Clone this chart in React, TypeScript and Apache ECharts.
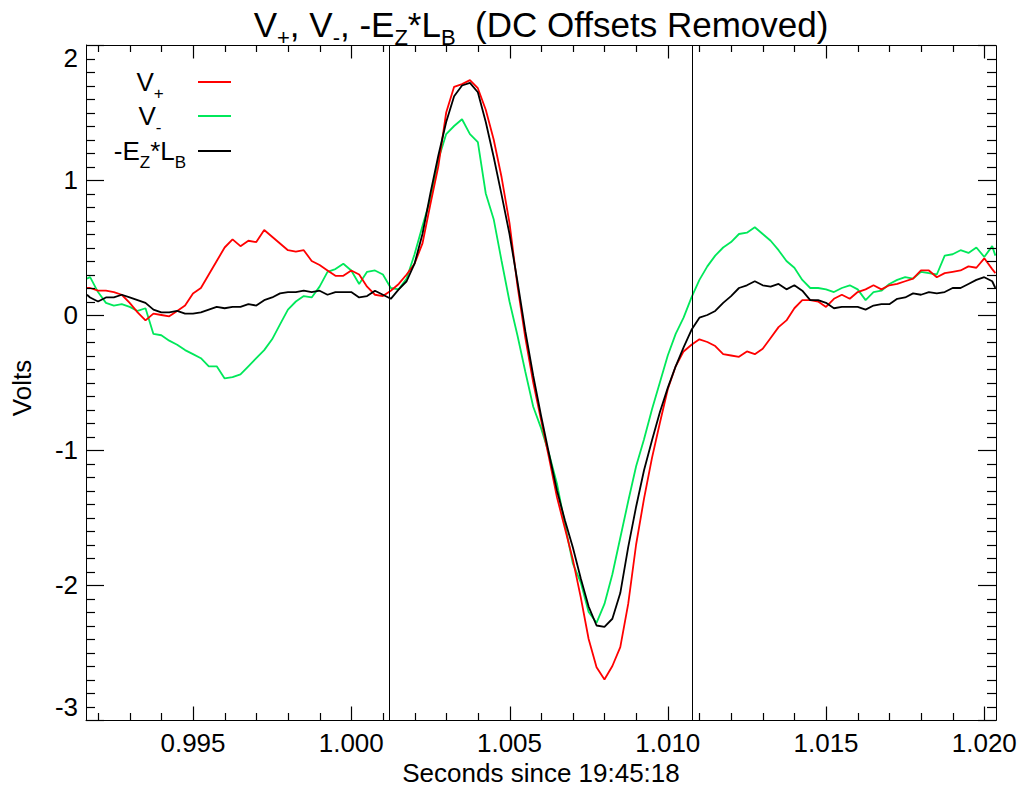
import React, { useEffect, useRef } from "react";
import * as echarts from "echarts";

// Sample times (seconds since 19:45:18)
const seconds = [
  0.99165,
  0.99175, 0.992, 0.99225, 0.9925, 0.99275, 0.993, 0.99325, 0.9935, 0.99375, 0.994,
  0.99425, 0.9945, 0.99475, 0.995, 0.99525, 0.9955, 0.99575, 0.996, 0.99625, 0.9965,
  0.99675, 0.997, 0.99725, 0.9975, 0.99775, 0.998, 0.99825, 0.9985, 0.99875, 0.999,
  0.99925, 0.9995, 0.99975, 1.0, 1.00025, 1.0005, 1.00075, 1.001, 1.00125, 1.0015,
  1.00175, 1.002, 1.00225, 1.0025, 1.00275, 1.003, 1.00325, 1.0035, 1.00375, 1.004,
  1.00425, 1.0045, 1.00475, 1.005, 1.00525, 1.0055, 1.00575, 1.006, 1.00625, 1.0065,
  1.00675, 1.007, 1.00725, 1.0075, 1.00775, 1.008, 1.00825, 1.0085, 1.00875, 1.009,
  1.00925, 1.0095, 1.00975, 1.01, 1.01025, 1.0105, 1.01075, 1.011, 1.01125, 1.0115,
  1.01175, 1.012, 1.01225, 1.0125, 1.01275, 1.013, 1.01325, 1.0135, 1.01375, 1.014,
  1.01425, 1.0145, 1.01475, 1.015, 1.01525, 1.0155, 1.01575, 1.016, 1.01625, 1.0165,
  1.01675, 1.017, 1.01725, 1.0175, 1.01775, 1.018, 1.01825, 1.0185, 1.01875, 1.019,
  1.01925, 1.0195, 1.01975, 1.02, 1.02025,
  1.02035,
];

// V+ (red)
const vPlus = [
  0.2,
  0.2, 0.18, 0.18, 0.17, 0.15, 0.09, 0.02, -0.04, 0.01, 0.0,
  -0.01, 0.03, 0.07, 0.16, 0.2, 0.3, 0.4, 0.5, 0.56, 0.51,
  0.55, 0.54, 0.63, 0.58, 0.53, 0.48, 0.47, 0.48, 0.4, 0.37,
  0.33, 0.29, 0.29, 0.33, 0.3, 0.21, 0.15, 0.14, 0.18, 0.23,
  0.3, 0.38, 0.53, 0.82, 1.1, 1.5, 1.69, 1.71, 1.74, 1.68,
  1.52, 1.3, 1.02, 0.68, 0.22, -0.17, -0.5, -0.78, -1.06, -1.35,
  -1.58, -1.81, -2.09, -2.4, -2.61, -2.7, -2.6, -2.46, -2.14, -1.7,
  -1.36, -1.06, -0.8, -0.55, -0.38, -0.27, -0.22, -0.18, -0.2, -0.23,
  -0.29, -0.3, -0.31, -0.27, -0.29, -0.25, -0.17, -0.09, -0.04, 0.05,
  0.11, 0.11, 0.1, 0.06, 0.12, 0.15, 0.12, 0.17, 0.19, 0.22,
  0.19, 0.22, 0.23, 0.25, 0.27, 0.33, 0.33, 0.28, 0.31, 0.32,
  0.33, 0.36, 0.35, 0.42, 0.34,
  0.31,
];

// V- (green)
const vMinus = [
  0.27,
  0.28, 0.17, 0.09, 0.07, 0.08, 0.06, 0.03, 0.05, -0.14, -0.15,
  -0.19, -0.22, -0.26, -0.29, -0.32, -0.38, -0.38, -0.47, -0.46, -0.44,
  -0.38, -0.32, -0.26, -0.18, -0.07, 0.04, 0.1, 0.14, 0.13, 0.21,
  0.32, 0.34, 0.38, 0.33, 0.23, 0.32, 0.33, 0.3, 0.2, 0.19,
  0.27, 0.45, 0.66, 0.86, 1.15, 1.34, 1.4, 1.45, 1.34, 1.28,
  0.9, 0.71, 0.4, 0.1, -0.15, -0.42, -0.68, -0.84, -1.03, -1.25,
  -1.55, -1.84, -1.98, -2.2, -2.28, -2.14, -1.92, -1.65, -1.38, -1.12,
  -0.92, -0.7, -0.5, -0.3, -0.14, -0.02, 0.13, 0.26, 0.36, 0.44,
  0.5, 0.54, 0.6, 0.61, 0.65, 0.6, 0.55, 0.48, 0.4, 0.35,
  0.26, 0.2, 0.2, 0.19, 0.17, 0.2, 0.22, 0.19, 0.11, 0.17,
  0.18, 0.23, 0.26, 0.28, 0.27, 0.32, 0.31, 0.3, 0.44, 0.45,
  0.48, 0.46, 0.5, 0.43, 0.51,
  0.44,
];

// -Ez*Lb (black)
const ezLb = [
  0.15,
  0.13, 0.1, 0.13, 0.13, 0.15, 0.13, 0.11, 0.09, 0.04, 0.02,
  0.02, 0.03, 0.01, 0.01, 0.02, 0.04, 0.06, 0.05, 0.06, 0.06,
  0.08, 0.07, 0.11, 0.13, 0.16, 0.17, 0.17, 0.18, 0.17, 0.18,
  0.15, 0.17, 0.17, 0.17, 0.13, 0.14, 0.18, 0.15, 0.12, 0.19,
  0.25, 0.38, 0.6, 0.9, 1.18, 1.43, 1.62, 1.7, 1.72, 1.65,
  1.43, 1.17, 0.89, 0.6, 0.25, -0.12, -0.45, -0.75, -1.03, -1.3,
  -1.52, -1.72, -1.95, -2.16, -2.3, -2.31, -2.25, -2.06, -1.72, -1.42,
  -1.15, -0.93, -0.72, -0.54, -0.38, -0.24, -0.11, -0.02, 0.0, 0.03,
  0.09, 0.14, 0.2, 0.22, 0.25, 0.22, 0.21, 0.23, 0.19, 0.22,
  0.18, 0.11, 0.11, 0.09, 0.05, 0.06, 0.06, 0.06, 0.04, 0.07,
  0.08, 0.08, 0.12, 0.13, 0.16, 0.15, 0.17, 0.16, 0.17, 0.2,
  0.2, 0.23, 0.26, 0.28, 0.25,
  0.2,
];

// Tick positions
const xMajorTicks = [0.995, 1.0, 1.005, 1.01, 1.015, 1.02];
const xMinorTicks = [
  0.992, 0.993, 0.994, 0.996, 0.997, 0.998, 0.999, 1.001, 1.002, 1.003, 1.004, 1.006,
  1.007, 1.008, 1.009, 1.011, 1.012, 1.013, 1.014, 1.016, 1.017, 1.018, 1.019,
];
const yMajorTicks = [-3, -2, -1, 0, 1, 2];
const yMinorTicks = [
  -2.9, -2.8, -2.7, -2.6, -2.5, -2.4, -2.3, -2.2, -2.1,
  -1.9, -1.8, -1.7, -1.6, -1.5, -1.4, -1.3, -1.2, -1.1,
  -0.9, -0.8, -0.7, -0.6, -0.5, -0.4, -0.3, -0.2, -0.1,
  0.1, 0.2, 0.3, 0.4, 0.5, 0.6, 0.7, 0.8, 0.9,
  1.1, 1.2, 1.3, 1.4, 1.5, 1.6, 1.7, 1.8, 1.9,
];

const markerTimes = [1.0012, 1.01077];
const xMin = 0.99162;
const xMax = 1.02037;
const yMin = -3;
const yMax = 2;

const FONT = "'Liberation Sans', Arial, Helvetica, sans-serif";
const RED = "#ff0000";
const GREEN = "#00e85a";
const BLACK = "#000000";

export default function App() {
  const ref = useRef<HTMLDivElement>(null);

  useEffect(() => {
    const chart = echarts.init(ref.current as HTMLDivElement, null, { renderer: "svg" });

    const isMajor = (v: number) => Math.abs(v * 200 - Math.round(v * 200)) < 1e-6;

    const baseGraphics: any[] = [
      {
        type: "text",
        x: 541,
        y: 0,
        style: {
          text: "V{s|+}, V{s|-}, -E{s|Z}*L{s|B}  (DC Offsets Removed)",
          fill: "#000",
          fontSize: 35,
          fontFamily: FONT,
          textAlign: "center",
          textVerticalAlign: "top",
          rich: { s: { fontSize: 22, fontFamily: FONT, fill: "#000", padding: [26, 0, 0, 0] } },
        },
      },
      {
        type: "text",
        x: 541,
        y: 773,
        style: {
          text: "Seconds since 19:45:18",
          fill: "#000",
          fontSize: 26,
          fontFamily: FONT,
          textAlign: "center",
          textVerticalAlign: "middle",
        },
      },
      {
        type: "text",
        x: 22,
        y: 388,
        rotation: Math.PI / 2,
        style: {
          text: "Volts",
          fill: "#000",
          fontSize: 26,
          fontFamily: FONT,
          textAlign: "center",
          textVerticalAlign: "middle",
        },
      },
      ...[
        { label: "V{s|+}", color: RED, y: 82 },
        { label: "V{s|-}", color: GREEN, y: 116 },
        { label: "-E{s|Z}*L{s|B}", color: BLACK, y: 151 },
      ].flatMap((it) => [
        {
          type: "text",
          x: 150,
          y: it.y,
          style: {
            text: it.label,
            fill: "#000",
            fontSize: 26,
            fontFamily: FONT,
            textAlign: "center",
            textVerticalAlign: "middle",
            rich: { s: { fontSize: 17, fontFamily: FONT, fill: "#000", padding: [22, 0, 0, 0] } },
          },
        },
        {
          type: "line",
          shape: { x1: 198, y1: it.y, x2: 231, y2: it.y },
          style: { stroke: it.color, lineWidth: 1.8 },
        },
      ]),
    ];

    const option: any = {
      animation: false,
      backgroundColor: "#ffffff",
      grid: { left: 86, top: 45, width: 910, height: 675 },
      xAxis: [
        {
          type: "value",
          position: "bottom",
          min: xMin,
          max: xMax,
          minInterval: 0.001,
          maxInterval: 0.001,
          splitNumber: 29,
          splitLine: { show: false },
          axisLine: { show: true, onZero: false, lineStyle: { color: "#000", width: 1 } },
          axisTick: { show: false },
          axisLabel: {
            show: true,
            interval: 0,
            margin: 10,
            color: "#000",
            fontSize: 26,
            fontFamily: FONT,
            formatter: (v: number) => (isMajor(v) ? v.toFixed(3) : ""),
          },
        },
      ],
      yAxis: [
        {
          type: "value",
          position: "left",
          min: yMin,
          max: yMax,
          interval: 1,
          splitLine: { show: false },
          axisLine: { show: true, onZero: false, lineStyle: { color: "#000", width: 1 } },
          axisTick: { show: false },
          axisLabel: {
            show: true,
            margin: 8,
            color: "#000",
            fontSize: 26,
            fontFamily: FONT,
            verticalAlignMinLabel: "bottom",
            verticalAlignMaxLabel: "top",
          },
        },
      ],
      series: [
        {
          name: "V+",
          type: "line",
          data: seconds.map((t, i) => [t, vPlus[i]]),
          showSymbol: false,
          symbol: "none",
          lineStyle: { color: RED, width: 1.8 },
          itemStyle: { color: RED },
          z: 3,
          markLine: {
            silent: true,
            precision: 6,
            symbol: ["none", "none"],
            label: { show: false },
            lineStyle: { color: "#000", width: 1, type: "solid" },
            data: markerTimes.map((t) => ({ xAxis: t })),
          },
        },
        {
          name: "V-",
          type: "line",
          data: seconds.map((t, i) => [t, vMinus[i]]),
          showSymbol: false,
          symbol: "none",
          lineStyle: { color: GREEN, width: 1.8 },
          itemStyle: { color: GREEN },
          z: 2,
        },
        {
          name: "-EZ*LB",
          type: "line",
          data: seconds.map((t, i) => [t, ezLb[i]]),
          showSymbol: false,
          symbol: "none",
          lineStyle: { color: BLACK, width: 1.8 },
          itemStyle: { color: BLACK },
          z: 4,
        },
      ],
      graphic: baseGraphics,
    };

    chart.setOption(option);

    // Ticks and frame placed through the chart's own coordinate conversion
    const toPx = (x: number, y: number) =>
      chart.convertToPixel({ xAxisIndex: 0, yAxisIndex: 0 }, [x, y]) as number[];
    const tl = toPx(xMin, yMax);
    const br = toPx(xMax, yMin);
    const left = tl[0], top = tl[1], right = br[0], bottom = br[1];
    const tickStyle = { stroke: "#000", lineWidth: 1.2 };
    const ticks: any[] = [];
    const addX = (vals: number[], len: number) =>
      vals.forEach((v) => {
        const x = Math.round(toPx(v, 0)[0]) + 0.5;
        ticks.push({ type: "line", z: 20, silent: true, shape: { x1: x, y1: bottom, x2: x, y2: bottom - len }, style: tickStyle });
        ticks.push({ type: "line", z: 20, silent: true, shape: { x1: x, y1: top, x2: x, y2: top + len }, style: tickStyle });
      });
    const addY = (vals: number[], len: number) =>
      vals.forEach((v) => {
        const y = Math.round(toPx(xMin, v)[1]) + 0.5;
        ticks.push({ type: "line", z: 20, silent: true, shape: { x1: left, y1: y, x2: left + len, y2: y }, style: tickStyle });
        ticks.push({ type: "line", z: 20, silent: true, shape: { x1: right, y1: y, x2: right - len, y2: y }, style: tickStyle });
      });
    addX(xMajorTicks, 13.5);
    addX(xMinorTicks, 7);
    addY(yMajorTicks, 18);
    addY(yMinorTicks, 9);
    const frame = {
      type: "rect",
      z: 20,
      silent: true,
      shape: { x: left + 0.5, y: top + 0.5, width: right - left, height: bottom - top },
      style: { fill: "none", stroke: "#000", lineWidth: 1 },
    };
    chart.setOption({ graphic: [...baseGraphics, frame, ...ticks] });

    return () => {
      chart.dispose();
    };
  }, []);

  return (
    <div
      ref={ref}
      style={{ position: "fixed", left: 0, top: 0, width: 1028, height: 793, background: "#fff" }}
    />
  );
}
